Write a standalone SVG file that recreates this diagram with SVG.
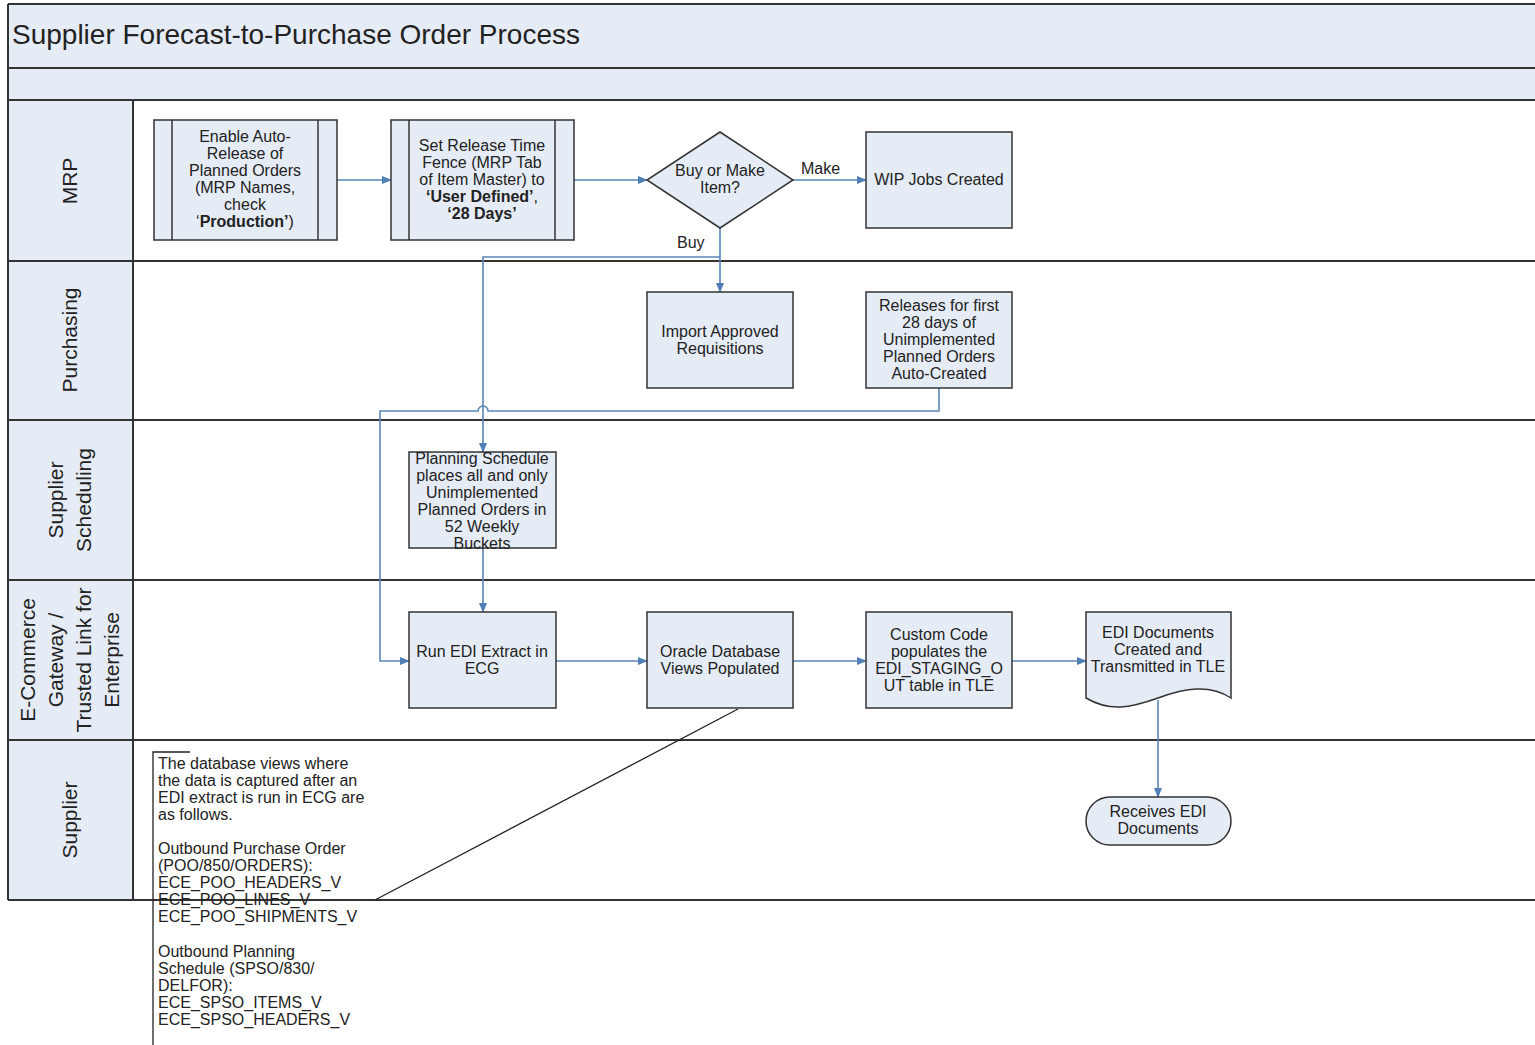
<svg xmlns="http://www.w3.org/2000/svg" width="1535" height="1045" viewBox="0 0 1535 1045">
<defs>
<marker id="arr" markerWidth="10" markerHeight="10" refX="9" refY="5" orient="auto" markerUnits="userSpaceOnUse">
<path d="M0,1 L10,5 L0,9 Z" fill="#4f7fb4"/>
</marker>
<style>
.band{fill:#e6ecf6;stroke:none}
.lane{stroke:#333;stroke-width:2;fill:none}
.box{fill:#e6ecf6;stroke:#333;stroke-width:1.5}
.t{font-family:"Liberation Sans",Arial,sans-serif;font-size:16px;fill:#222;text-anchor:middle}
.b{font-weight:bold}
.lbl{font-family:"Liberation Sans",Arial,sans-serif;font-size:21px;fill:#222;text-anchor:middle}
.note{font-family:"Liberation Sans",Arial,sans-serif;font-size:16px;fill:#222}
.c{stroke:#5a86b8;stroke-width:1.6;fill:none}
.cl{font-family:"Liberation Sans",Arial,sans-serif;font-size:16px;fill:#222}
</style>
</defs>
<rect width="1535" height="1045" fill="#fff"/>
<g id="pool">
<rect class="band" x="8" y="4" width="1527" height="96"/>
<rect class="band" x="8" y="100" width="125" height="800"/>
<line class="lane" x1="8" y1="4" x2="1535" y2="4"/>
<line class="lane" x1="8" y1="68" x2="1535" y2="68"/>
<line class="lane" x1="8" y1="100" x2="1535" y2="100"/>
<line class="lane" x1="8" y1="261" x2="1535" y2="261"/>
<line class="lane" x1="8" y1="420" x2="1535" y2="420"/>
<line class="lane" x1="8" y1="580" x2="1535" y2="580"/>
<line class="lane" x1="8" y1="740" x2="1535" y2="740"/>
<line class="lane" x1="8" y1="900" x2="1535" y2="900"/>
<line class="lane" x1="8" y1="4" x2="8" y2="900"/>
<line class="lane" x1="133" y1="100" x2="133" y2="900"/>
<text x="12" y="44" font-family="Liberation Sans,Arial,sans-serif" font-size="28" fill="#222">Supplier Forecast-to-Purchase Order Process</text>
</g>
<g id="lane-labels">
<text class="lbl" transform="translate(77,181) rotate(-90)">MRP</text>
<text class="lbl" transform="translate(77,340) rotate(-90)">Purchasing</text>
<text class="lbl" transform="translate(63,500) rotate(-90)">Supplier</text>
<text class="lbl" transform="translate(91,500) rotate(-90)">Scheduling</text>
<text class="lbl" transform="translate(35,660) rotate(-90)">E-Commerce</text>
<text class="lbl" transform="translate(63,660) rotate(-90)">Gateway /</text>
<text class="lbl" transform="translate(91,660) rotate(-90)">Trusted Link for</text>
<text class="lbl" transform="translate(119,660) rotate(-90)">Enterprise</text>
<text class="lbl" transform="translate(77,820) rotate(-90)">Supplier</text>
</g>
<g id="connectors">
<line class="c" x1="337" y1="180" x2="391" y2="180" marker-end="url(#arr)"/>
<line class="c" x1="574" y1="180" x2="647" y2="180" marker-end="url(#arr)"/>
<line class="c" x1="793" y1="180" x2="866" y2="180" marker-end="url(#arr)"/>
<text class="cl" x="801" y="174">Make</text>
<line class="c" x1="720" y1="228" x2="720" y2="292" marker-end="url(#arr)"/>
<text class="cl" x="677" y="248">Buy</text>
<polyline class="c" points="720,257 483,257 483,452" marker-end="url(#arr)"/>
<line class="c" x1="483" y1="548" x2="483" y2="612" marker-end="url(#arr)"/>
<path class="c" d="M939,388 V411 H488 A5,5 0 0 0 478,411 H380 V661 H409" marker-end="url(#arr)"/>
<line class="c" x1="556" y1="661" x2="647" y2="661" marker-end="url(#arr)"/>
<line class="c" x1="793" y1="661" x2="866" y2="661" marker-end="url(#arr)"/>
<line class="c" x1="1012" y1="661" x2="1086" y2="661" marker-end="url(#arr)"/>
<line class="c" x1="1158" y1="700" x2="1158" y2="797" marker-end="url(#arr)"/>
<line x1="738" y1="709" x2="375" y2="900" stroke="#222" stroke-width="1.3"/>
</g>
<g id="n-enable">
<rect class="box" x="154" y="120" width="183" height="120"/>
<line x1="172" y1="120" x2="172" y2="240" stroke="#333" stroke-width="1.5"/>
<line x1="318" y1="120" x2="318" y2="240" stroke="#333" stroke-width="1.5"/>
<text class="t"><tspan x="245" y="142">Enable Auto-</tspan><tspan x="245" y="159">Release of</tspan><tspan x="245" y="176">Planned Orders</tspan><tspan x="245" y="193">(MRP Names,</tspan><tspan x="245" y="210">check</tspan><tspan x="245" y="227">‘<tspan class="b">Production’</tspan>)</tspan></text>
</g>
<g id="n-release">
<rect class="box" x="391" y="120" width="183" height="120"/>
<line x1="409" y1="120" x2="409" y2="240" stroke="#333" stroke-width="1.5"/>
<line x1="555" y1="120" x2="555" y2="240" stroke="#333" stroke-width="1.5"/>
<text class="t"><tspan x="482" y="151">Set Release Time</tspan><tspan x="482" y="168">Fence (MRP Tab</tspan><tspan x="482" y="185">of Item Master) to</tspan><tspan x="482" y="202"><tspan class="b">‘User Defined’</tspan>,</tspan><tspan x="482" y="219" class="b">‘28 Days’</tspan></text>
</g>
<g id="n-decision">
<polygon class="box" points="720,132 793,180 720,228 647,180"/>
<text class="t"><tspan x="720" y="176">Buy or Make</tspan><tspan x="720" y="193">Item?</tspan></text>
</g>
<g id="n-wip">
<rect class="box" x="866" y="132" width="146" height="96"/>
<text class="t" x="939" y="185">WIP Jobs Created</text>
</g>
<g id="n-import">
<rect class="box" x="647" y="292" width="146" height="96"/>
<text class="t"><tspan x="720" y="337">Import Approved</tspan><tspan x="720" y="354">Requisitions</tspan></text>
</g>
<g id="n-releases">
<rect class="box" x="866" y="292" width="146" height="96"/>
<text class="t"><tspan x="939" y="311">Releases for first</tspan><tspan x="939" y="328">28 days of</tspan><tspan x="939" y="345">Unimplemented</tspan><tspan x="939" y="362">Planned Orders</tspan><tspan x="939" y="379">Auto-Created</tspan></text>
</g>
<g id="n-planning">
<rect class="box" x="409" y="452" width="147" height="96"/>
<text class="t"><tspan x="482" y="464">Planning Schedule</tspan><tspan x="482" y="481">places all and only</tspan><tspan x="482" y="498">Unimplemented</tspan><tspan x="482" y="515">Planned Orders in</tspan><tspan x="482" y="532">52 Weekly</tspan><tspan x="482" y="549">Buckets</tspan></text>
</g>
<g id="n-runedi">
<rect class="box" x="409" y="612" width="147" height="96"/>
<text class="t"><tspan x="482" y="657">Run EDI Extract in</tspan><tspan x="482" y="674">ECG</tspan></text>
</g>
<g id="n-oracle">
<rect class="box" x="647" y="612" width="146" height="96"/>
<text class="t"><tspan x="720" y="657">Oracle Database</tspan><tspan x="720" y="674">Views Populated</tspan></text>
</g>
<g id="n-custom">
<rect class="box" x="866" y="612" width="146" height="96"/>
<text class="t"><tspan x="939" y="640">Custom Code</tspan><tspan x="939" y="657">populates the</tspan><tspan x="939" y="674">EDI_STAGING_O</tspan><tspan x="939" y="691">UT table in TLE</tspan></text>
</g>
<g id="n-edidocs">
<path class="box" d="M1086,612 H1231 V698 C1210,684 1185,688 1158,698 C1130,708 1110,712 1086,698 Z"/>
<text class="t"><tspan x="1158" y="638">EDI Documents</tspan><tspan x="1158" y="655">Created and</tspan><tspan x="1158" y="672">Transmitted in TLE</tspan></text>
</g>
<g id="n-receives">
<rect class="box" x="1086" y="797" width="145" height="48" rx="24" ry="24"/>
<text class="t"><tspan x="1158" y="817">Receives EDI</tspan><tspan x="1158" y="834">Documents</tspan></text>
</g>
<g id="annotation">
<polyline points="190,752 153,752 153,1045" fill="none" stroke="#222" stroke-width="1.3"/>
<text class="note"><tspan x="158" y="769">The database views where</tspan><tspan x="158" y="786">the data is captured after an</tspan><tspan x="158" y="803">EDI extract is run in ECG are</tspan><tspan x="158" y="820">as follows.</tspan><tspan x="158" y="854">Outbound Purchase Order</tspan><tspan x="158" y="871">(POO/850/ORDERS):</tspan><tspan x="158" y="888">ECE_POO_HEADERS_V</tspan><tspan x="158" y="905">ECE_POO_LINES_V</tspan><tspan x="158" y="922">ECE_POO_SHIPMENTS_V</tspan><tspan x="158" y="957">Outbound Planning</tspan><tspan x="158" y="974">Schedule (SPSO/830/</tspan><tspan x="158" y="991">DELFOR):</tspan><tspan x="158" y="1008">ECE_SPSO_ITEMS_V</tspan><tspan x="158" y="1025">ECE_SPSO_HEADERS_V</tspan></text>
</g>
</svg>
